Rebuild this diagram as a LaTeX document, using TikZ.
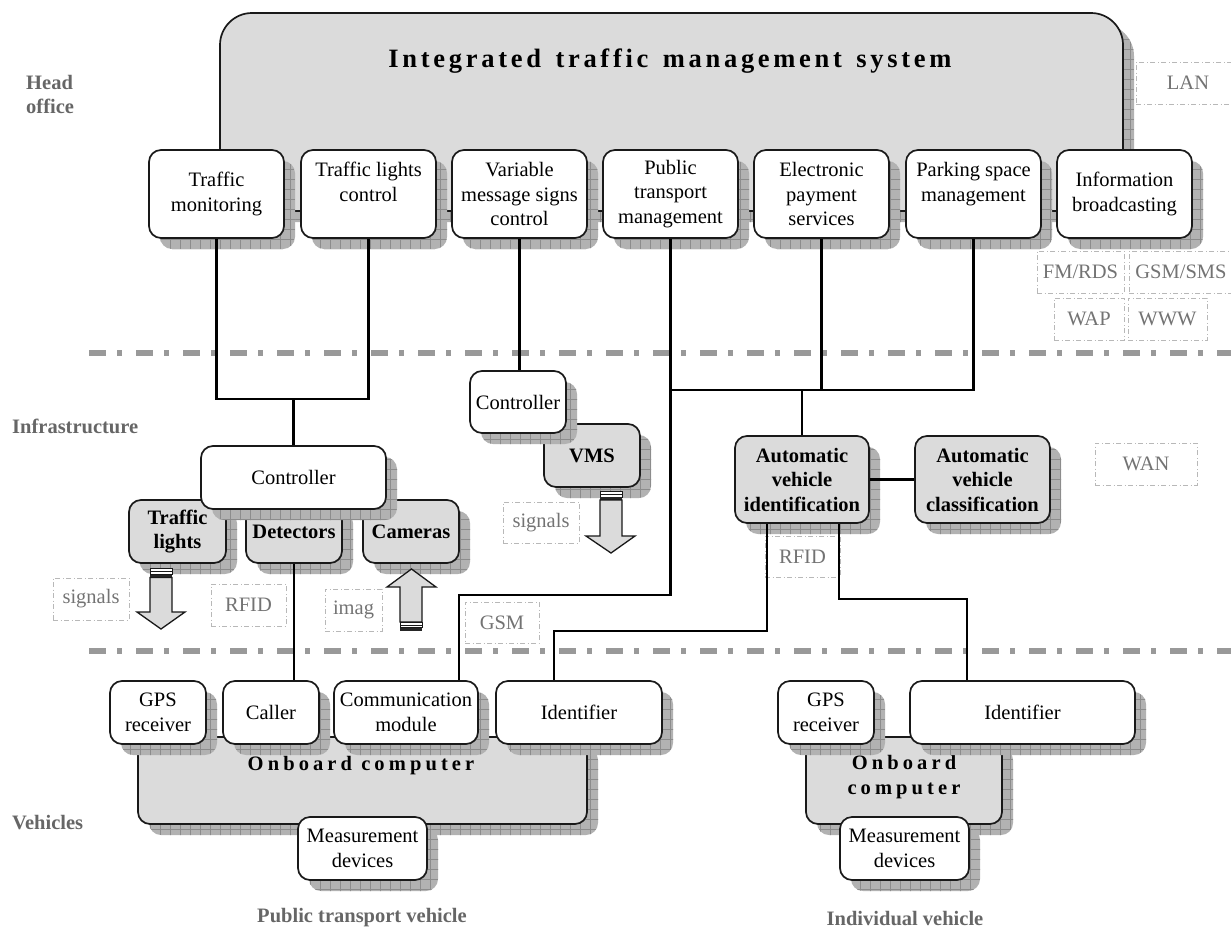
\documentclass[tikz,border=0pt]{standalone}
\usepackage{fontspec}
\setmainfont{Liberation Serif}
\newfontfamily\titlefont{Liberation Serif}[LetterSpace=14,WordSpace=1.4]
\newfontfamily\obfont{Liberation Serif}[LetterSpace=20]
\usetikzlibrary{shadows,patterns.meta}
\newcommand\mybody{\fontsize{20.5}{24.5}\selectfont}
\begin{document}
\begin{tikzpicture}[x=1pt,y=-1pt,
  bshadow/.style={
    general shadow={shadow xshift=11pt,shadow yshift=-11pt,fill=black!30},
    general shadow={shadow xshift=11pt,shadow yshift=-11pt,
      pattern={Hatch[angle=0,distance=10pt,line width=0.6pt]},pattern color=black!45}},
  box/.style={draw=black!90,line width=1.7pt,rounded corners=12pt,fill=white,
    align=center,inner sep=0pt,font=\mybody,bshadow},
  gbox/.style={box,fill=black!14,font=\mybody\bfseries},
  dbox/.style={draw=black!28,line width=0.9pt,dash pattern=on 5pt off 2.5pt on 1pt off 2.5pt,
    text=black!55,font=\mybody,inner sep=0pt,minimum height=42pt},
  sep/.style={draw=black!40,line width=6pt,dash pattern=on 17pt off 11pt on 5pt off 14pt},
  conn/.style={draw=black,line width=2.8pt},
  lab/.style={text=black!60,font=\mybody\bfseries,inner sep=0pt},
  barrow/.style={draw=black!90,line width=1.3pt,fill=black!14},
  stripe/.style={draw=black!90,line width=1pt,fill=white}
]
\useasboundingbox (0,0) rectangle (1231,929);
\clip (0,0) rectangle (1231,929);

% separators
\draw[sep] (89,353) -- (1240,353);
\draw[sep] (89,651) -- (1240,651);

% head office
\node[box,fill=black!14,rounded corners=32pt,minimum width=903pt,minimum height=198pt] (itms) at (671.5,112) {};
\node[inner sep=0pt,font=\fontsize{26.5}{30}\selectfont\titlefont\bfseries] (itmst) at (670,61) {Integrated traffic management system};

\node[box,minimum width=135pt,minimum height=88pt] (tm) at (216.5,194) {Traffic\\monitoring};
\node[box,minimum width=135pt,minimum height=88pt] (tlc) at (368.5,194) {Traffic lights\\control\\~};
\node[box,minimum width=135pt,minimum height=88pt] (vmsc) at (519.5,194) {Variable\\message signs\\control};
\node[box,minimum width=135pt,minimum height=88pt] (ptm) at (670.5,194) {Public\\transport\\management};
\node[box,minimum width=135pt,minimum height=88pt] (eps) at (821.5,194) {Electronic\\payment\\services};
\node[box,minimum width=135pt,minimum height=88pt] (psm) at (973.5,194) {Parking space\\management\\~};
\node[box,minimum width=135pt,minimum height=88pt] (ib) at (1124.5,194) {Information\\broadcasting};

% infrastructure
\node[gbox,minimum width=97pt,minimum height=63pt] (tl) at (177.5,531.5) {Traffic\\lights};
\node[gbox,minimum width=96pt,minimum height=63pt] (det) at (294,531.5) {Detectors};
\node[gbox,minimum width=96pt,minimum height=63pt] (cam) at (411,531.5) {Cameras};
\node[box,minimum width=185pt,minimum height=63pt] (ctl) at (293.5,477.5) {Controller};

\node[gbox,minimum width=96pt,minimum height=63pt] (vms) at (592,455.5) {VMS};
\node[box,minimum width=96pt,minimum height=62pt] (vctl) at (518,402) {Controller};

\node[gbox,minimum width=134pt,minimum height=87pt] (avi) at (802,479.5) {Automatic\\vehicle\\identification};
\node[gbox,minimum width=135pt,minimum height=87pt] (avc) at (982.5,479.5) {Automatic\\vehicle\\classification};

% vehicles - public transport
\node[box,fill=black!14,minimum width=449pt,minimum height=87pt] (obp) at (362.5,780.5) {};
\node[inner sep=0pt,font=\mybody\obfont\bfseries] (obpt) at (361,766) {Onboard computer};
\node[box,minimum width=96pt,minimum height=63pt] (gpsp) at (158,712.5) {GPS\\receiver};
\node[box,minimum width=96pt,minimum height=63pt] (caller) at (271,712.5) {Caller};
\node[box,minimum width=144pt,minimum height=63pt] (comm) at (406,712.5) {Communication\\module};
\node[box,minimum width=166pt,minimum height=63pt] (idp) at (579,712.5) {Identifier};
\node[box,minimum width=129pt,minimum height=63pt] (mdp) at (362.5,848.5) {Measurement\\devices};

% vehicles - individual
\node[box,fill=black!14,minimum width=196pt,minimum height=87pt] (obi) at (904,780.5) {};
\node[inner sep=0pt,align=center,font=\mybody\obfont\bfseries] (obit) at (904,777) {Onboard\\computer};
\node[box,minimum width=96pt,minimum height=63pt] (gpsi) at (826,712.5) {GPS\\receiver};
\node[box,minimum width=225pt,minimum height=63pt] (idi) at (1022.5,712.5) {Identifier};
\node[box,minimum width=129pt,minimum height=63pt] (mdi) at (904.5,848.5) {Measurement\\devices};

% dash-dot media boxes
\node[dbox,minimum width=104pt] (lan) at (1188,83) {LAN};
\node[dbox,minimum width=87pt] (fmrds) at (1080.5,272) {FM/RDS};
\node[dbox,minimum width=104pt] (gsmsms) at (1181,272) {GSM/SMS};
\node[dbox,minimum width=70pt] (wap) at (1089,319) {WAP};
\node[dbox,minimum width=79pt] (www) at (1167.5,319) {WWW};
\node[dbox,minimum width=102pt] (wan) at (1146,464) {WAN};
\node[dbox,minimum width=76pt] (sig1) at (91,599) {signals};
\node[dbox,minimum width=75pt] (rfid1) at (248.5,605) {RFID};
\node[dbox,minimum width=57pt] (imag) at (353.5,610) {imag};
\node[dbox,minimum width=76pt,minimum height=41pt] (sig2) at (541,522.5) {signals};
\node[dbox,minimum width=74pt,minimum height=41pt] (gsm) at (502,622.5) {GSM};
\node[dbox,minimum width=75pt,minimum height=41pt] (rfid2) at (802.5,556.5) {RFID};

% block arrows
\draw[stripe] (150,568) rectangle (172,571.5);
\draw[stripe] (150,571.5) rectangle (172,574.5);
\fill[black!85] (150,574.5) rectangle (172,577.5);
\draw[barrow] (150,577.5) -- (150,612) -- (137,612) -- (161,629) -- (185,612) -- (172,612) -- (172,577.5) -- cycle;

\draw[barrow] (400,622) -- (400,587) -- (387,587) -- (411.5,569) -- (436,587) -- (422,587) -- (422,622) -- cycle;
\draw[stripe] (400,622) rectangle (422,625);
\draw[stripe] (400,625) rectangle (422,627.5);
\fill[black!85] (400,627.5) rectangle (422,631);

\draw[stripe] (600,491) rectangle (622,494);
\draw[stripe] (600,494) rectangle (622,497);
\fill[black!85] (600,497) rectangle (622,500);
\draw[barrow] (600,500) -- (600,536) -- (586,536) -- (611,553) -- (635,536) -- (622,536) -- (622,500) -- cycle;

% connectors
\coordinate (j1) at (293.5,399);
\coordinate (j2) at (670.5,390);
\coordinate (c1) at (459,595);
\coordinate (c3) at (554,631);
\coordinate (c4) at (967,599);
\draw[conn] (tm.south) |- (j1) -| (tlc.south);
\draw[conn] (j1) -- (ctl.north);
\draw[conn] (det.south) -- (det.south |- caller.north);
\draw[conn] (vmsc.south) -- (vmsc.south |- vctl.north);
\draw[conn] (ptm.south) |- (c1) -- (c1 |- comm.north);
\draw[conn] (j2) -| (psm.south);
\draw[conn] (eps.south) -- (eps.south |- j2);
\draw[conn] (avi.north) -- (avi.north |- j2);
\draw[conn] (avi.east) -- (avc.west);
\draw[conn] ([xshift=-35pt]avi.south) |- (c3) -- (c3 |- idp.north);
\draw[conn] ([xshift=37pt]avi.south) |- (c4) -- (c4 |- idi.north);

% section labels
\node[lab,align=left,anchor=west] (lhead) at (26,94.5) {Head\\office};
\node[lab,anchor=west] (linfra) at (12,426) {Infrastructure};
\node[lab,anchor=west] (lveh) at (12,823) {Vehicles};
\node[lab] (lpt) at (362,918) {Public transport vehicle};
\node[lab] (liv) at (905,918) {Individual vehicle};
\end{tikzpicture}
\end{document}
